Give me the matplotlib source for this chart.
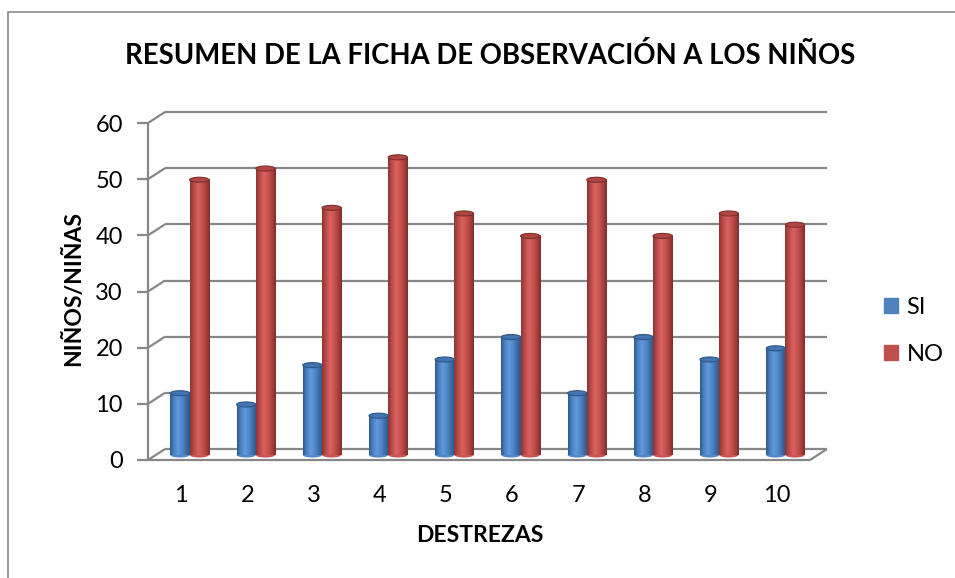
import numpy as np
import matplotlib
matplotlib.use("Agg")
import matplotlib.pyplot as plt
from matplotlib.colors import LinearSegmentedColormap
from matplotlib.patches import Ellipse, Patch, Rectangle

# datos
destrezas = ['1', '2', '3', '4', '5', '6', '7', '8', '9', '10']
si = [11, 9, 16, 7, 17, 21, 11, 21, 17, 19]
no = [49, 51, 44, 53, 43, 39, 49, 39, 43, 41]

plt.rcParams['font.family'] = ['Lato', 'DejaVu Sans']

W, H = 955, 578
fig = plt.figure(figsize=(W / 100, H / 100), dpi=100)

# frente del area de trazado, en pixeles
px0, px1, py0, py1 = 148, 810, 460, 123
ax = fig.add_axes([px0 / W, 1 - py0 / H, (px1 - px0) / W, (py0 - py1) / H])
ax.set_autoscale_on(False)
ax.set_xlim(0.5, 10.5)
ax.set_ylim(0, 60)
ax.patch.set_visible(False)
for s in ax.spines.values():
    s.set_visible(False)

ux = (px1 - px0) / 10
uy = (py0 - py1) / 60
bdx, bdy = 17 / ux, 11 / uy      # pared del fondo
mdx, mdy = 8.5 / ux, 5 / uy      # profundidad de las barras

grid = '#878787'
kw = dict(color=grid, lw=1.6, clip_on=False, zorder=1, solid_capstyle='butt')
for v in range(0, 61, 10):
    ax.plot([0.5 + bdx, 10.5 + bdx], [v + bdy, v + bdy], **kw)
    ax.plot([0.5, 0.5 + bdx], [v, v + bdy], **kw)
ax.plot([0.5, 0.5], [0, 60], **kw)
ax.plot([0.5, 10.5], [0, 0], **kw)
ax.plot([10.5, 10.5 + bdx], [0, bdy], **kw)

x = np.arange(1, 11)
w = 0.29
eh = 0.9  # alto de la elipse (unidades de datos)
series = [
    (si, -w / 2, '#4F81BD', ['#30598b', '#4d83c4', '#6199da', '#5188c9', '#3d6da7', '#2e5587'], '#4375b2'),
    (no, w / 2, '#C0504D', ['#8c3432', '#b94d4a', '#d8625e', '#cb5552', '#ab423f', '#822e2c'], '#ae4744'),
]
grad = np.linspace(0, 1, 64)[np.newaxis, :]
for vals, off, col, cols, topc in series:
    cmap = LinearSegmentedColormap.from_list('c', cols)
    xc = x + off + mdx
    ax.bar(xc, vals, w, bottom=mdy, color=col, zorder=3)
    for xi, v in zip(xc, vals):
        ax.add_patch(Ellipse((xi, mdy), w, eh, facecolor=cols[3], edgecolor='none', zorder=2.9))
        ax.imshow(grad, cmap=cmap, aspect='auto', interpolation='bilinear',
                  extent=[xi - w / 2, xi + w / 2, mdy, mdy + v], zorder=3.1)
        ax.add_patch(Ellipse((xi, mdy + v), w, eh, facecolor=topc, edgecolor=cols[-1],
                             lw=0.8, zorder=3.2))
ax.set_xlim(0.5, 10.5)
ax.set_ylim(0, 60)

ax.set_yticks(range(0, 61, 10))
ax.tick_params(axis='y', length=8, width=1.6, color=grid, pad=10, labelsize=17)
ax.set_xticks(x, destrezas)
ax.tick_params(axis='x', length=0, pad=18, labelsize=17)

fig.text(490 / W, 1 - 55 / H, 'RESUMEN DE LA FICHA DE OBSERVACIÓN A LOS NIÑOS',
         ha='center', va='center', fontsize=19.8, fontweight='bold')
fig.text(73 / W, 1 - 288 / H, 'NIÑOS/NIÑAS', rotation=90, ha='center', va='center',
         fontsize=16.5, fontweight='bold')
fig.text(480 / W, 1 - 536 / H, 'DESTREZAS', ha='center', va='center',
         fontsize=16.5, fontweight='bold')

handles = [Patch(color='#4F81BD'), Patch(color='#C0504D')]
fig.legend(handles, ['SI', 'NO'], loc='center left', bbox_to_anchor=(884 / W, 1 - 331 / H),
           frameon=False, fontsize=17, handlelength=0.6, handleheight=0.6,
           handletextpad=0.35, labelspacing=1.1, borderpad=0, borderaxespad=0)

fig.patches.append(Rectangle((8 / W, -0.1), 2, 1.1 - 12 / H, transform=fig.transFigure,
                             fill=False, edgecolor='#8a8a8a', lw=1.2))

fig.savefig('out.png', dpi=100)
